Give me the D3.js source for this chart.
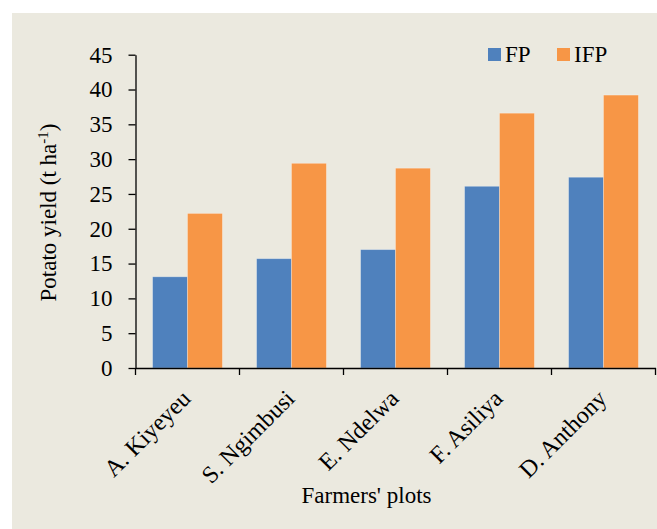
<!DOCTYPE html>
<html><head><meta charset="utf-8">
<script src="https://cdn.jsdelivr.net/npm/d3@7"></script>
<style>body{margin:0;background:#fff}svg{display:block}text{font-family:"Liberation Serif","Times New Roman",serif;fill:#000}</style>
</head><body>
<svg id="c" width="657" height="529"></svg>
<script>
const categories = ["A. Kiyeyeu","S. Ngimbusi","E. Ndelwa","F. Asiliya","D. Anthony"];
const seriesNames = ["FP","IFP"];
const fpValues = [13.1, 15.7, 17.0, 26.1, 27.4];
const ifpValues = [22.2, 29.4, 28.7, 36.6, 39.2];
const yTicks = [0,5,10,15,20,25,30,35,40,45];
const colors = ["#4f81bd","#f79646"];

const svg = d3.select("#c");
svg.append("rect").attr("x",12).attr("y",13).attr("width",645).attr("height",516).attr("fill","#ebe9df");

const mLeft = 135.5, mRight = 655.5, mTop = 54.7, mBottom = 368;
const FS = "23px";
const x = d3.scaleBand().domain(categories).range([mLeft,mRight]).paddingInner(0).paddingOuter(0);
const xs = d3.scaleBand().domain(seriesNames).range([0,x.bandwidth()]).paddingInner(0).paddingOuter(0.49);
const y = d3.scaleLinear().domain([0,45]).range([mBottom,mTop]);

const data = categories.map((c,i)=>({cat:c, vals:[fpValues[i], ifpValues[i]]}));
const g = svg.append("g");
g.selectAll("g.grp").data(data).join("g").attr("class","grp")
  .attr("transform",d=>`translate(${x(d.cat)},0)`)
  .selectAll("rect").data(d=>d.vals.map((v,j)=>({name:seriesNames[j],v,j})))
  .join("rect")
  .attr("x",d=>xs(d.name)).attr("width",xs.bandwidth())
  .attr("y",d=>y(d.v)).attr("height",d=>y(0)-y(d.v))
  .attr("fill",d=>colors[d.j]).attr("stroke","rgba(255,255,255,0.35)").attr("stroke-width",0.8);

// y axis
const ya = svg.append("g").attr("transform",`translate(${mLeft},0)`)
  .call(d3.axisLeft(y).tickValues(yTicks).tickSize(7).tickPadding(16).tickSizeOuter(0));
ya.select(".domain").attr("stroke","#000").attr("stroke-width",1.3);
ya.selectAll(".tick line").attr("stroke","#000").attr("stroke-width",1.3);
ya.selectAll(".tick text").style("font-size",FS).style("font-family","Liberation Serif").attr("fill","#000");

// x axis
const xa = svg.append("g").attr("transform",`translate(0,${mBottom})`)
  .call(d3.axisBottom(x).tickSize(0).tickFormat(""));
xa.select(".domain").attr("stroke","#000").attr("stroke-width",1.3);
const boundaries = categories.map(c=>x(c)).concat([mRight]);
svg.append("g").selectAll("line").data(boundaries).join("line")
  .attr("x1",d=>d).attr("x2",d=>d).attr("y1",mBottom).attr("y2",mBottom+7)
  .attr("stroke","#000").attr("stroke-width",1.3);

svg.append("g").selectAll("text").data(categories).join("text")
  .attr("transform",d=>`translate(${x(d)+x.bandwidth()/2+4.5},${mBottom+32}) rotate(-45)`)
  .attr("text-anchor","end")
  .style("font-size","24px").text(d=>d);

svg.append("text").attr("x",366.5).attr("y",503).attr("text-anchor","middle").style("font-size",FS).text("Farmers' plots");

const yt = svg.append("text").attr("transform",`translate(56,212.5) rotate(-90)`).attr("text-anchor","middle").style("font-size",FS);
yt.append("tspan").text("Potato yield (t ha");
yt.append("tspan").attr("baseline-shift","super").style("font-size","15px").text("-1");
yt.append("tspan").text(")");

// legend
const leg = svg.append("g").selectAll("g").data(seriesNames).join("g")
  .attr("transform",(d,i)=>`translate(${488+i*69},48)`);
leg.append("rect").attr("width",13).attr("height",13).attr("fill",(d,i)=>colors[i]);
leg.append("text").attr("x",17).attr("y",14).style("font-size",FS).text(d=>d);
</script>
</body></html>
